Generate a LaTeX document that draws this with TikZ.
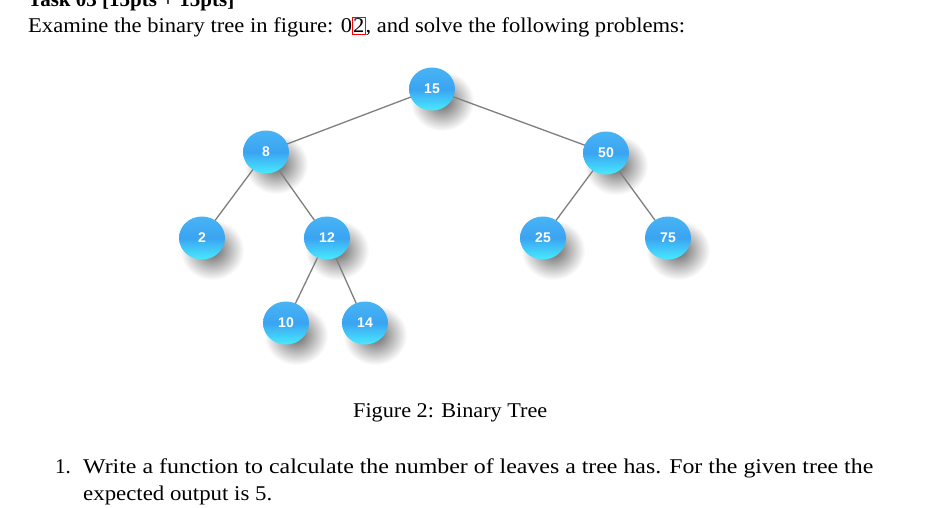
\documentclass[tikz,border=0pt]{standalone}
\usepackage{fontspec}
\setmainfont{Liberation Serif}
\newfontfamily\nodefont{Liberation Sans}
\usetikzlibrary{shapes.geometric}
\definecolor{balltop}{HTML}{48B4F4}
\definecolor{ballmid}{HTML}{3AA4F2}
\definecolor{ballbot}{HTML}{48EAFF}
\definecolor{edgegray}{HTML}{7F7F7F}
\tikzset{
  ball/.style={ellipse, minimum width=46pt, minimum height=43pt, inner sep=0pt,
    top color=balltop, bottom color=ballbot, middle color=ballmid,
    text=white, font=\nodefont\bfseries\fontsize{14}{14}\selectfont},
  ballshadow/.style={inner color=black!62, outer color=white},
  treeedge/.style={draw=edgegray, line width=1.3pt},
  bodytext/.style={anchor=base west, inner sep=0pt, font=\fontsize{21}{21}\selectfont}
}
\begin{document}
\begin{tikzpicture}[x=1pt,y=-1pt]
\useasboundingbox (0,0) rectangle (927,507);
\fill[white] (0,0) rectangle (927,507);
\coordinate (c15) at (432,89);
\coordinate (c8) at (266,152);
\coordinate (c50) at (606,153);
\coordinate (c2) at (202,238);
\coordinate (c12) at (327,238);
\coordinate (c25) at (543,238);
\coordinate (c75) at (668,238);
\coordinate (c10) at (286,323);
\coordinate (c14) at (365,323);
\foreach \c in {c15,c8,c50,c2,c12,c25,c75,c10,c14}{
  \shade[ballshadow] ([shift={(10,12)}]\c) ellipse (32 and 30);
}
\draw[treeedge] (c15) -- (c8);
\draw[treeedge] (c15) -- (c50);
\draw[treeedge] (c8) -- (c2);
\draw[treeedge] (c8) -- (c12);
\draw[treeedge] (c12) -- (c10);
\draw[treeedge] (c12) -- (c14);
\draw[treeedge] (c50) -- (c25);
\draw[treeedge] (c50) -- (c75);
\node[ball] (n15) at (c15) {15};
\node[ball] (n8) at (c8) {8};
\node[ball] (n50) at (c50) {50};
\node[ball] (n2) at (c2) {2};
\node[ball] (n12) at (c12) {12};
\node[ball] (n25) at (c25) {25};
\node[ball] (n75) at (c75) {75};
\node[ball] (n10) at (c10) {10};
\node[ball] (n14) at (c14) {14};
% texts
\node[bodytext, font=\bfseries\fontsize{21}{21}\selectfont] (task) at (28,6) {Task 03 [15pts + 15pts]};
\node[bodytext] (intro) at (28,32) {\resizebox{657pt}{\height}{Examine the binary tree in figure: 0\tikz[baseline=0pt]{\node[inner sep=0pt, anchor=base] (two) {2}; \draw[red, line width=0.6pt] ([xshift=-0.5pt,yshift=1pt]two.north west) rectangle ([xshift=0.5pt,yshift=-2pt]two.south east);}, and solve the following problems:}};
\node[bodytext] (caption) at (353,417) {\resizebox{194pt}{\height}{Figure 2: Binary Tree}};
\node[bodytext] (num) at (55,473) {1.};
\node[bodytext] (item1) at (83,473) {\resizebox{790pt}{\height}{Write a function to calculate the number of leaves a tree has. For the given tree the}};
\node[bodytext] (item2) at (83,500) {\resizebox{189pt}{\height}{expected output is 5.}};
\end{tikzpicture}
\end{document}
